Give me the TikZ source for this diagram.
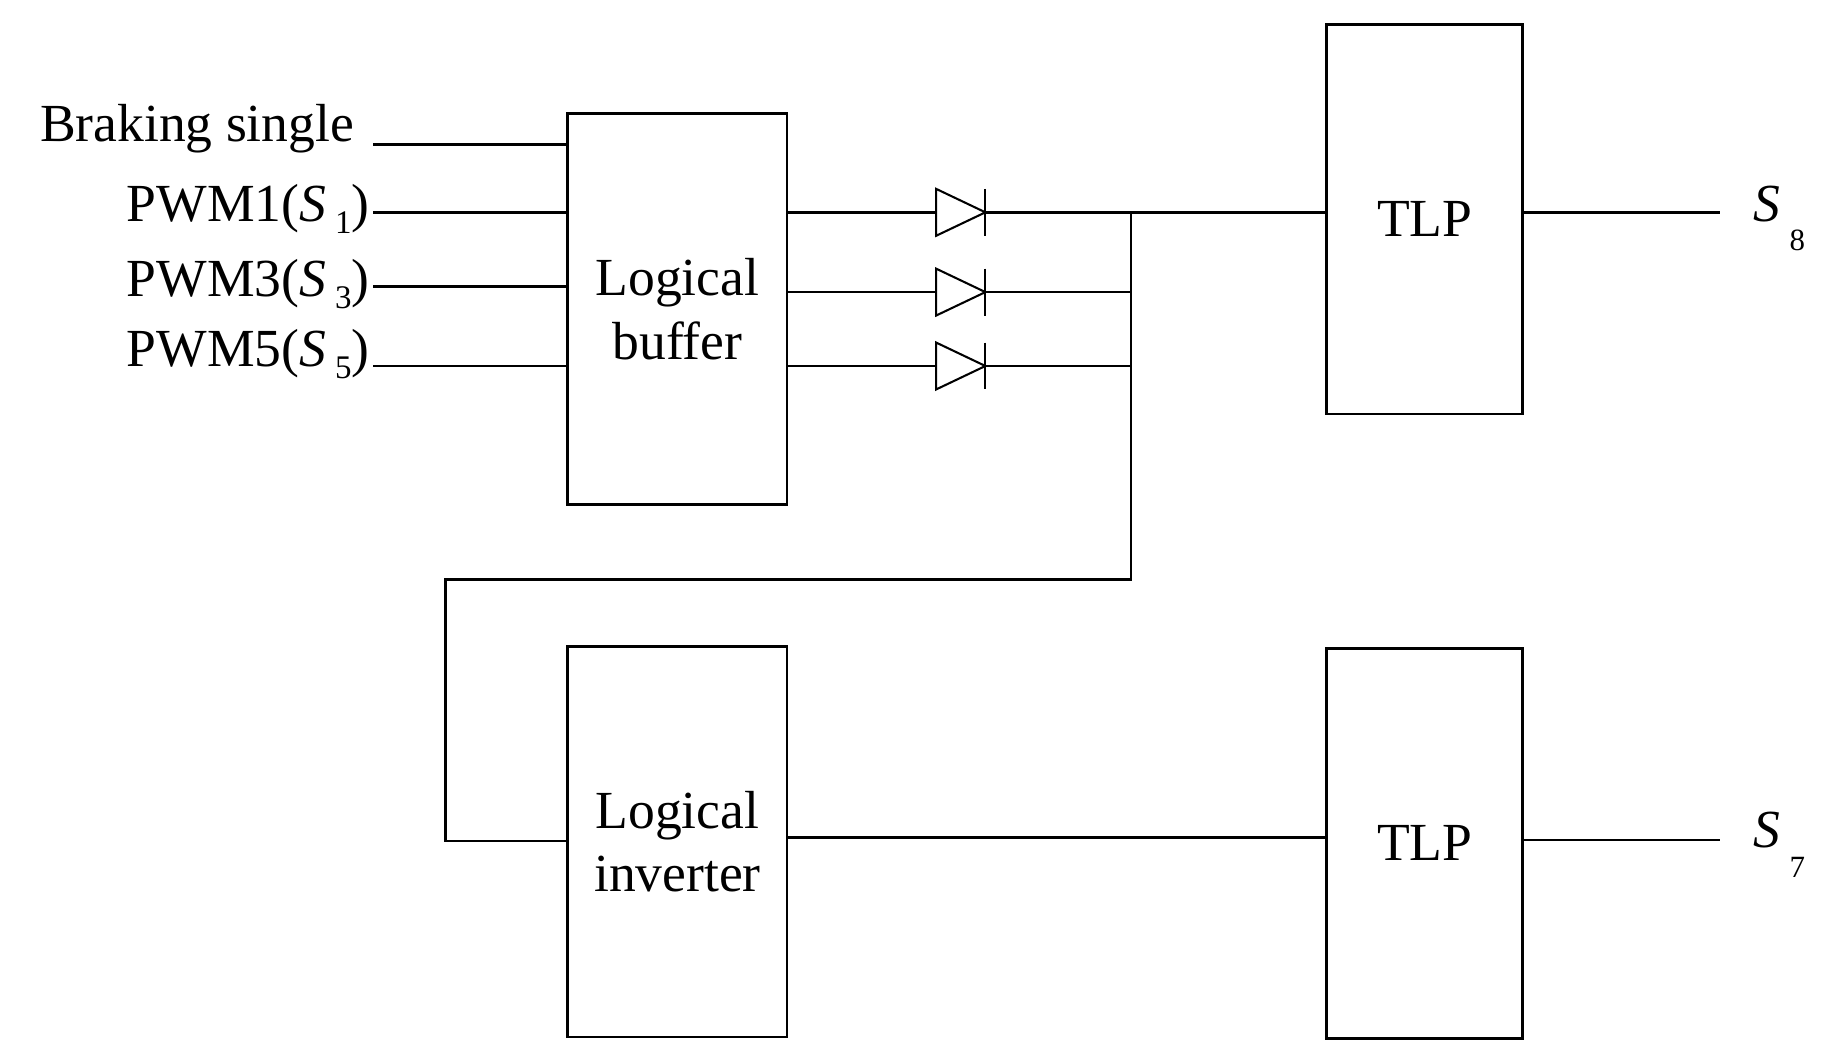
\documentclass[tikz,border=0pt]{standalone}
\usepackage{fontspec}
\setmainfont{Liberation Serif}
\begin{document}
\begin{tikzpicture}[x=0.02cm,y=-0.02cm,line width=1.3pt,
  blk/.style={draw,minimum width=187*0.02cm,inner sep=0pt,align=center,font=\fontsize{26}{31}\selectfont},
  lbl/.style={anchor=east,inner sep=0pt,font=\fontsize{26}{30}\selectfont},
  slbl/.style={anchor=west,inner sep=0pt,font=\fontsize{26}{30}\selectfont},
  dio/.style={line width=1pt}]
\useasboundingbox (0,0) rectangle (1560,899);
\node[blk,minimum height=333*0.02cm] (buf) at (577.5,263.5) {Logical\\buffer};
\node[blk,minimum height=333*0.02cm] (inv) at (577.5,717.5) {Logical\\inverter};
\node[blk,minimum width=167*0.02cm,minimum height=332*0.02cm] (tlp1) at (1214.5,187) {TLP};
\node[blk,minimum width=167*0.02cm,minimum height=332*0.02cm] (tlp2) at (1214.5,719) {TLP};
\node[lbl] (lb) at (303,110) {Braking single};
\node[lbl] (l1) at (316,178) {PWM1(\textit{S}\,\raisebox{-0.5ex}{\fontsize{16}{18}\selectfont 1})};
\node[lbl] (l3) at (316,242) {PWM3(\textit{S}\,\raisebox{-0.5ex}{\fontsize{16}{18}\selectfont 3})};
\node[lbl] (l5) at (316,302) {PWM5(\textit{S}\,\raisebox{-0.5ex}{\fontsize{16}{18}\selectfont 5})};
\coordinate (bb) at (318,123); \coordinate (b1) at (318,181);
\coordinate (b3) at (318,244); \coordinate (b5) at (318,312);
\draw (bb) -- (bb-|buf.west); \draw (b1) -- (b1-|buf.west);
\draw (b3) -- (b3-|buf.west); \draw (b5) -- (b5-|buf.west);
\foreach \y/\n in {181/a,249/b,312/c}{
  \coordinate (d\n) at (798,\y);
  \draw[dio] (798,\y-20) -- (840,\y) -- (798,\y+20) -- cycle;
  \draw[dio] (840,\y-20) -- (840,\y+20);
  \draw (671,\y) -- (d\n);
  \draw (840,\y) -- (964,\y);
}
\coordinate (j) at (964,181);
\coordinate (jb) at (964,494);
\coordinate (jl) at (380,494);
\coordinate (jd) at (380,717);
\draw (j) -- (tlp1.west|-j);
\draw (j) -- (jb) -- (jl) -- (jd) -- (inv.west|-jd);
\coordinate (io) at (671,714);
\draw (io) -- (tlp2.west|-io);
\coordinate (s8) at (1466,181); \coordinate (s7) at (1466,716);
\draw (tlp1.east|-s8) -- (s8);
\draw (tlp2.east|-s7) -- (s7);
\node[slbl] (t8) at (1494,186) {\textit{S}\,\raisebox{-1.2ex}{\fontsize{15}{17}\selectfont 8}};
\node[slbl] (t7) at (1494,720) {\textit{S}\,\raisebox{-1.2ex}{\fontsize{15}{17}\selectfont 7}};
\end{tikzpicture}
\end{document}
